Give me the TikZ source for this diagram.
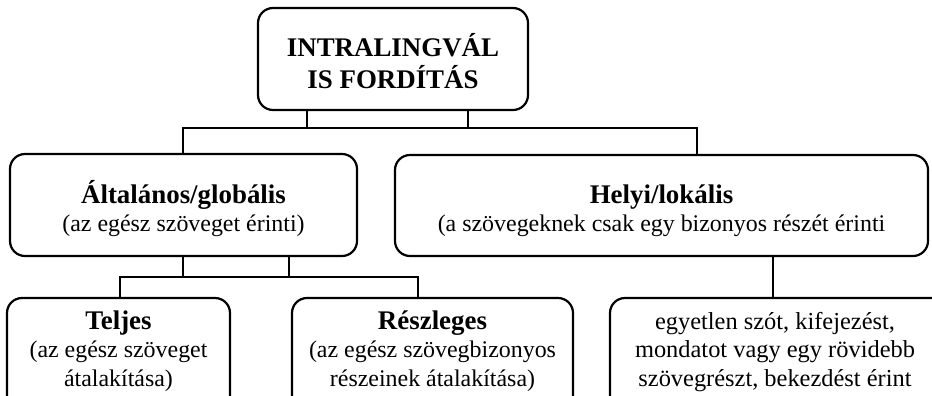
\documentclass[tikz,border=0pt]{standalone}
\usepackage{fontspec}
\setmainfont{Liberation Serif}
\begin{document}
\begin{tikzpicture}[x=1bp,y=-1bp,
  every node/.style={inner sep=0pt, outer sep=0pt},
  box/.style={draw, line width=2.2bp, rounded corners=15bp},
  conn/.style={line width=2.2bp},
  head/.style={font=\fontsize{27}{32}\selectfont\bfseries, align=center},
  body/.style={font=\fontsize{24}{28.5}\selectfont, align=center},
  hd/.style={}]
\newcommand\hdtext[1]{{\fontsize{27}{28.5}\selectfont\bfseries #1}}
\useasboundingbox (0,0) rectangle (932,395);
\begin{scope}
\clip (0,0) rectangle (932,395);

% frames
\node[box, minimum width=270bp, minimum height=102bp] (root) at (393,59) {};
\node[box, minimum width=347bp, minimum height=102bp] (glob) at (183.5,205) {};
\node[box, minimum width=533bp, minimum height=101bp] (lok) at (661.5,205.5) {};
% lowest frames run past the lower edge
\node[box, anchor=north, minimum width=223bp, minimum height=140bp] (telj) at (118.5,298) {};
\node[box, anchor=north, minimum width=281bp, minimum height=140bp] (resz) at (432.5,298) {};
\node[box, anchor=north, minimum width=340bp, minimum height=140bp] (egy) at (780,298) {};

% texts
\node[head] (rootT) at (393,61) {INTRALINGVÁL\\IS FORDÍTÁS};
\node[body] (globT) at (183.5,208.5)
  {\hdtext{Általános/globális}\\(az egész szöveget érinti)};
\node[body] (lokT) at (661.5,211)
  {\hdtext{Helyi/lokális}\\(a szövegeknek csak egy bizonyos részét érinti};
\node[body] (teljT) at (118.5,351)
  {\hdtext{Teljes}\\(az egész szöveget\\átalakítása)};
\node[body] (reszT) at (432.5,351)
  {\hdtext{Részleges}\\(az egész szövegbizonyos\\részeinek átalakítása)};
\node[body, font=\fontsize{24.5}{29}\selectfont] (egyT) at (775,352)
  {egyetlen szót, kifejezést,\\mondatot vagy egy rövidebb\\szövegrészt, bekezdést érint};

% connectors
\coordinate (busA) at (183,128);
\coordinate (busB) at (697,128);
\draw[conn] (root.south -| 307,0) -- (307,128);
\draw[conn] (root.south -| 468,0) -- (468,128);
\draw[conn] (glob.north -| busA) -- (busA) -- (busB) -- (lok.north -| busB);

\coordinate (busC) at (120,277);
\coordinate (busD) at (418,277);
\draw[conn] (glob.south -| 183,0) -- (183,277);
\draw[conn] (glob.south -| 289,0) -- (289,277);
\draw[conn] (telj.north -| busC) -- (busC) -- (busD) -- (resz.north -| busD);

\draw[conn] (lok.south -| 773,0) -- (egy.north -| 773,0);
\end{scope}
\end{tikzpicture}
\end{document}
